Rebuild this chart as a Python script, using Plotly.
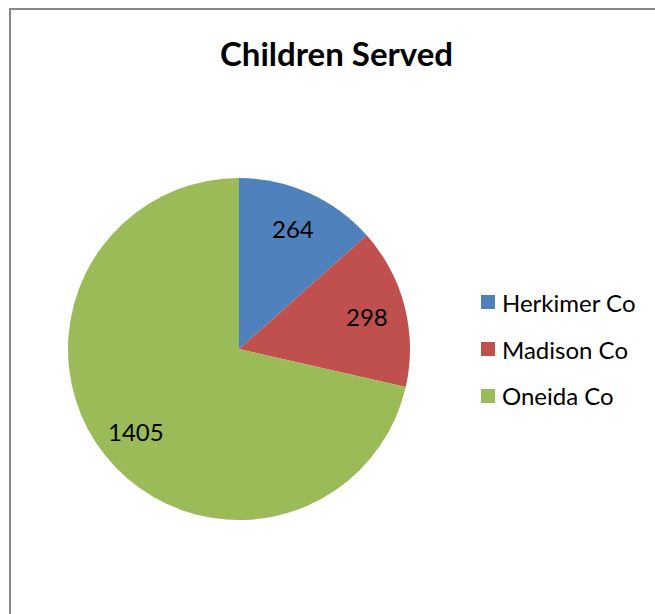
import math
import plotly.graph_objects as go

# Children served per county
counties = ["Herkimer Co", "Madison Co", "Oneida Co"]
children = [264, 298, 1405]
colors = ["#4F81BD", "#C0504D", "#9BBB59"]

W, H = 655, 614
FONT = "Lato"

# Pie placement (pixels)
CX, CY, R = 239, 349, 171

fig = go.Figure(
    go.Pie(
        labels=counties,
        values=children,
        sort=False,
        direction="clockwise",
        rotation=0,
        marker=dict(colors=colors, line=dict(width=0)),
        textinfo="none",
        hoverinfo="label+value+percent",
        domain=dict(x=[(CX - R) / W, (CX + R) / W],
                    y=[1 - (CY + R) / H, 1 - (CY - R) / H]),
        showlegend=False,
    )
)

# Value labels on each slice, placed along the slice bisector
total = sum(children)
start = 0.0
for v in children:
    mid = (start + v / 2) / total * 2 * math.pi
    start += v
    px = CX + 0.77 * R * math.sin(mid)
    py = CY - 0.77 * R * math.cos(mid)
    fig.add_annotation(
        x=px / W, y=1 - py / H, xref="paper", yref="paper",
        text=str(v), showarrow=False, xanchor="center", yanchor="middle",
        font=dict(family=FONT, size=24, color="black"),
    )

# Legend drawn as swatches plus labels
leg_x, leg_y0, leg_dy, sw = 481, 302, 47, 14
for i, (name, col) in enumerate(zip(counties, colors)):
    cy = leg_y0 + i * leg_dy
    fig.add_shape(
        type="rect", xref="paper", yref="paper",
        x0=leg_x / W, x1=(leg_x + sw) / W,
        y0=1 - (cy + sw / 2) / H, y1=1 - (cy - sw / 2) / H,
        fillcolor=col, line=dict(width=0),
    )
    fig.add_annotation(
        x=(leg_x + sw + 5) / W, y=1 - cy / H, xref="paper", yref="paper",
        text=name, showarrow=False, xanchor="left", yanchor="middle",
        font=dict(family=FONT, size=24, color="black"),
    )

# Chart title
fig.add_annotation(
    x=336 / W, y=1 - 53 / H, xref="paper", yref="paper",
    text="<b>Children Served</b>", showarrow=False,
    xanchor="center", yanchor="middle",
    font=dict(family=FONT, size=33, color="black"),
)

# Chart area frame (top and left edges)
frame = dict(color="#888888", width=2)
fig.add_shape(type="line", xref="paper", yref="paper",
              x0=9 / W, x1=1, y0=1 - 9 / H, y1=1 - 9 / H, line=frame)
fig.add_shape(type="line", xref="paper", yref="paper",
              x0=10 / W, x1=10 / W, y0=0, y1=1 - 9 / H, line=frame)

fig.update_layout(
    width=W, height=H,
    margin=dict(l=0, r=0, t=0, b=0),
    paper_bgcolor="white", plot_bgcolor="white",
)

fig.write_html("out.html")
